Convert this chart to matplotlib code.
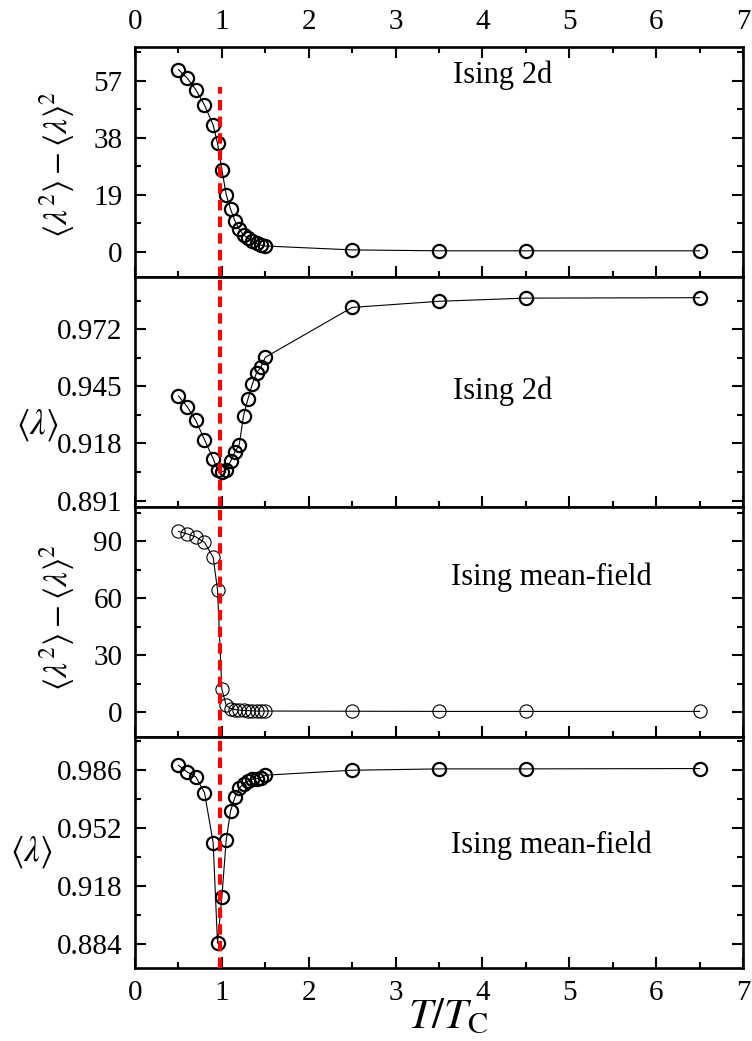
import matplotlib
matplotlib.use('Agg')
import matplotlib.pyplot as plt
from matplotlib.ticker import MultipleLocator, FixedLocator

plt.rcParams['font.family'] = ['Liberation Serif', 'DejaVu Serif']
plt.rcParams['mathtext.fontset'] = 'stix'

# reduced temperature T/Tc
T = [0.5, 0.6, 0.7, 0.8, 0.9, 0.95, 1.0, 1.05, 1.1, 1.15, 1.2, 1.25, 1.3,
     1.35, 1.4, 1.45, 1.5, 2.5, 3.5, 4.5, 6.5]

# Ising 2d
var_2d = [60.7, 57.9, 54.0, 48.9, 42.2, 36.1, 27.4, 19.0, 14.2, 10.3, 7.5,
          5.6, 4.5, 3.6, 2.8, 2.2, 1.9, 0.6, 0.3, 0.3, 0.3]
mean_2d = [0.9405, 0.9355, 0.9289, 0.9198, 0.9108, 0.9053, 0.9045, 0.9056,
           0.9095, 0.9140, 0.9174, 0.9312, 0.9390, 0.9460, 0.9515, 0.9541,
           0.9588, 0.9824, 0.9853, 0.9868, 0.9870]

# Ising mean-field
var_mf = [95.2, 93.9, 92.3, 89.4, 81.5, 64.4, 12.0, 3.5, 1.8, 1.3, 1.0, 0.8,
          0.7, 0.6, 0.5, 0.5, 0.5, 0.4, 0.3, 0.3, 0.3]
mean_mf = [0.9889, 0.9850, 0.9821, 0.9729, 0.9434, 0.8844, 0.9114, 0.9450,
           0.9620, 0.9700, 0.9753, 0.9782, 0.9795, 0.9807, 0.9811, 0.9817,
           0.9831, 0.9860, 0.9868, 0.9868, 0.9870]

Tc_line = 0.975

var_label = r'$\langle\lambda^2\rangle - \langle\lambda\rangle^2$'
mean_label = r'$\langle\lambda\rangle$'

panels = [
    dict(y=var_2d, ylim=(-8.5, 68.2), ticks=[0, 19, 38, 57], minor=9.5,
         fmt='%d', label=var_label, name='Ising 2d', txt=(0.604, 0.878), mew=1.6),
    dict(y=mean_2d, ylim=(0.8878, 0.9967), ticks=[0.891, 0.918, 0.945, 0.972],
         minor=0.0135, fmt='%.3f', label=mean_label, name='Ising 2d',
         txt=(0.605, 0.504), mew=1.6),
    dict(y=var_mf, ylim=(-13.4, 107.9), ticks=[0, 30, 60, 90], minor=15,
         fmt='%d', label=var_label, name='Ising mean-field', txt=(0.685, 0.696),
         mew=0.8),
    dict(y=mean_mf, ylim=(0.8701, 1.0053), ticks=[0.884, 0.918, 0.952, 0.986],
         minor=0.017, fmt='%.3f', label=mean_label, name='Ising mean-field',
         txt=(0.685, 0.53), mew=1.6),
]

fig = plt.figure(figsize=(7.52, 10.41), dpi=100)
left, width = 135 / 752, 608 / 752
h = 230.1 / 1041
bottom0 = 1 - 967.5 / 1041

axes = []
for i, p in enumerate(panels):
    ax = fig.add_axes([left, bottom0 + (3 - i) * h, width, h])
    axes.append(ax)
    ax.plot(T, p['y'], color='black', lw=0.8, marker='o', ms=9.5,
            mfc='none', mec='black', mew=p['mew'], zorder=3)
    ax.set_xlim(0, 7)
    ax.set_ylim(*p['ylim'])
    ax.xaxis.set_major_locator(MultipleLocator(1))
    ax.xaxis.set_minor_locator(MultipleLocator(0.5))
    ax.yaxis.set_major_locator(FixedLocator(p['ticks']))
    ax.yaxis.set_minor_locator(MultipleLocator(p['minor']))
    ax.yaxis.set_major_formatter(matplotlib.ticker.FormatStrFormatter(p['fmt']))
    ax.tick_params(which='both', direction='in', right=True, top=(i == 0),
                   labelbottom=(i == 3), labeltop=(i == 0), labelsize=21,
                   width=1.5)
    ax.tick_params(which='major', length=8, pad=9)
    ax.tick_params(which='minor', length=4.5)
    for s in ax.spines.values():
        s.set_linewidth(1.9)
    ax.text(p['txt'][0], p['txt'][1], p['name'], transform=ax.transAxes,
            ha='center', va='center', fontsize=22)

    if i == 0:
        ax.axvline(Tc_line, ymax=(55 - p['ylim'][0]) / (p['ylim'][1] - p['ylim'][0]),
                   color='red', lw=3, ls=(0, (2.5, 1.5)), zorder=4)
    else:
        ax.axvline(Tc_line, color='red', lw=3, ls=(0, (2.5, 1.5)), zorder=4)

# y labels
axes[0].text(-0.128, 0.49, var_label, transform=axes[0].transAxes, rotation=90,
             ha='center', va='center', fontsize=24)
axes[2].text(-0.128, 0.52, var_label, transform=axes[2].transAxes, rotation=90,
             ha='center', va='center', fontsize=24)
axes[1].text(-0.161, 0.357, mean_label, transform=axes[1].transAxes,
             ha='center', va='center', fontsize=25)
axes[3].text(-0.171, 0.5, mean_label, transform=axes[3].transAxes,
             ha='center', va='center', fontsize=25)

axes[3].text(0.515, -0.265, r'$T/T_{\rm C}$', transform=axes[3].transAxes,
             ha='center', va='baseline', fontsize=31)

fig.savefig('out.png', dpi=100)
